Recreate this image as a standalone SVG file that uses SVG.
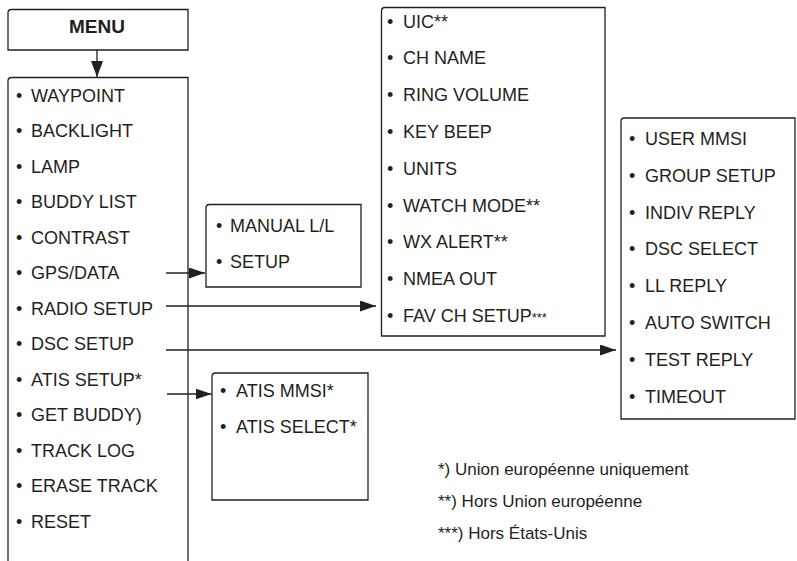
<svg xmlns="http://www.w3.org/2000/svg" width="797" height="561" viewBox="0 0 797 561">
<defs>
<style>
.box{fill:#fff;stroke:#231f20;stroke-width:1.3}
.ln{fill:none;stroke:#231f20;stroke-width:1.3}
.t{font-family:"Liberation Sans",Arial,sans-serif;font-size:18px;fill:#231f20}
.b{font-weight:bold;font-size:19px}
.fn{font-family:"Liberation Sans",Arial,sans-serif;font-size:17px;fill:#231f20}
.sm{font-size:13px}
</style>
<marker id="ah" viewBox="0 0 16 11" refX="16" refY="5.5" markerWidth="16" markerHeight="11" markerUnits="userSpaceOnUse" orient="auto">
<path d="M0,0 L16,5.5 L0,11 Z" fill="#231f20"/>
</marker>
<marker id="ahm" viewBox="0 0 16 12" refX="16" refY="6" markerWidth="16" markerHeight="12" markerUnits="userSpaceOnUse" orient="auto">
<path d="M0,0 L16,6 L0,12 Z" fill="#231f20"/>
</marker>
</defs>
<rect width="797" height="561" fill="#fff"/>

<g id="menu">
<path class="box" d="M8,50 V13 Q8,9.5 11.5,9.5 H188 V50 Z"/>
<text class="t b" x="97" y="33" text-anchor="middle">MENU</text>
</g>

<g id="main-menu">
<path class="box" d="M8,562 V81 Q8,77.5 11.5,77.5 H188 V562"/>
<text class="t" y="101.5"><tspan x="16">•</tspan><tspan x="31">WAYPOINT</tspan></text>
<text class="t" y="137"><tspan x="16">•</tspan><tspan x="31">BACKLIGHT</tspan></text>
<text class="t" y="172.5"><tspan x="16">•</tspan><tspan x="31">LAMP</tspan></text>
<text class="t" y="208"><tspan x="16">•</tspan><tspan x="31">BUDDY LIST</tspan></text>
<text class="t" y="243.5"><tspan x="16">•</tspan><tspan x="31">CONTRAST</tspan></text>
<text class="t" y="279"><tspan x="16">•</tspan><tspan x="31">GPS/DATA</tspan></text>
<text class="t" y="314.5"><tspan x="16">•</tspan><tspan x="31">RADIO SETUP</tspan></text>
<text class="t" y="350"><tspan x="16">•</tspan><tspan x="31">DSC SETUP</tspan></text>
<text class="t" y="385.5"><tspan x="16">•</tspan><tspan x="31">ATIS SETUP*</tspan></text>
<text class="t" y="421"><tspan x="16">•</tspan><tspan x="31">GET BUDDY)</tspan></text>
<text class="t" y="456.5"><tspan x="16">•</tspan><tspan x="31">TRACK LOG</tspan></text>
<text class="t" y="492"><tspan x="16">•</tspan><tspan x="31">ERASE TRACK</tspan></text>
<text class="t" y="527.5"><tspan x="16">•</tspan><tspan x="31">RESET</tspan></text>
</g>

<g id="gps-menu">
<path class="box" d="M206,287 V208 Q206,204.5 209.5,204.5 H361 V287 Z"/>
<text class="t" y="232"><tspan x="216">•</tspan><tspan x="230">MANUAL L/L</tspan></text>
<text class="t" y="268"><tspan x="216">•</tspan><tspan x="230">SETUP</tspan></text>
</g>

<g id="radio-menu">
<path class="box" d="M381.5,336 V11 Q381.5,7.5 385,7.5 H605 V336 Z"/>
<text class="t" y="27.5"><tspan x="387">•</tspan><tspan x="403">UIC**</tspan></text>
<text class="t" y="64.3"><tspan x="387">•</tspan><tspan x="403">CH NAME</tspan></text>
<text class="t" y="101.1"><tspan x="387">•</tspan><tspan x="403">RING VOLUME</tspan></text>
<text class="t" y="137.9"><tspan x="387">•</tspan><tspan x="403">KEY BEEP</tspan></text>
<text class="t" y="174.7"><tspan x="387">•</tspan><tspan x="403">UNITS</tspan></text>
<text class="t" y="211.5"><tspan x="387">•</tspan><tspan x="403">WATCH MODE**</tspan></text>
<text class="t" y="248.3"><tspan x="387">•</tspan><tspan x="403">WX ALERT**</tspan></text>
<text class="t" y="285.1"><tspan x="387">•</tspan><tspan x="403">NMEA OUT</tspan></text>
<text class="t" y="321.9"><tspan x="387">•</tspan><tspan x="403">FAV CH SETUP<tspan class="sm">***</tspan></tspan></text>
</g>

<g id="dsc-menu">
<path class="box" d="M621,419 V121.5 Q621,118 624.5,118 H795 V419 Z"/>
<text class="t" y="145"><tspan x="629">•</tspan><tspan x="645">USER MMSI</tspan></text>
<text class="t" y="181.8"><tspan x="629">•</tspan><tspan x="645">GROUP SETUP</tspan></text>
<text class="t" y="218.6"><tspan x="629">•</tspan><tspan x="645">INDIV REPLY</tspan></text>
<text class="t" y="255.4"><tspan x="629">•</tspan><tspan x="645">DSC SELECT</tspan></text>
<text class="t" y="292.2"><tspan x="629">•</tspan><tspan x="645">LL REPLY</tspan></text>
<text class="t" y="329"><tspan x="629">•</tspan><tspan x="645">AUTO SWITCH</tspan></text>
<text class="t" y="365.8"><tspan x="629">•</tspan><tspan x="645">TEST REPLY</tspan></text>
<text class="t" y="402.6"><tspan x="629">•</tspan><tspan x="645">TIMEOUT</tspan></text>
</g>

<g id="atis-menu">
<path class="box" d="M212,500 V376.5 Q212,373 215.5,373 H368 V500 Z"/>
<text class="t" y="396.5"><tspan x="220">•</tspan><tspan x="236">ATIS MMSI*</tspan></text>
<text class="t" y="433"><tspan x="220">•</tspan><tspan x="236">ATIS SELECT*</tspan></text>
</g>

<g id="footnotes">
<text class="fn" x="438" y="475">*) Union européenne uniquement</text>
<text class="fn" x="438" y="507">**) Hors Union européenne</text>
<text class="fn" x="438" y="539">***) Hors États-Unis</text>
</g>

<g id="connectors">
<line class="ln" x1="97" y1="50" x2="97" y2="77" marker-end="url(#ahm)"/>
<line class="ln" x1="166" y1="273" x2="205" y2="273" marker-end="url(#ah)"/>
<line class="ln" x1="166" y1="306" x2="376" y2="306" marker-end="url(#ah)"/>
<line class="ln" x1="166" y1="350" x2="616" y2="350" marker-end="url(#ah)"/>
<line class="ln" x1="167" y1="394" x2="211.5" y2="394" marker-end="url(#ah)"/>
</g>
</svg>
